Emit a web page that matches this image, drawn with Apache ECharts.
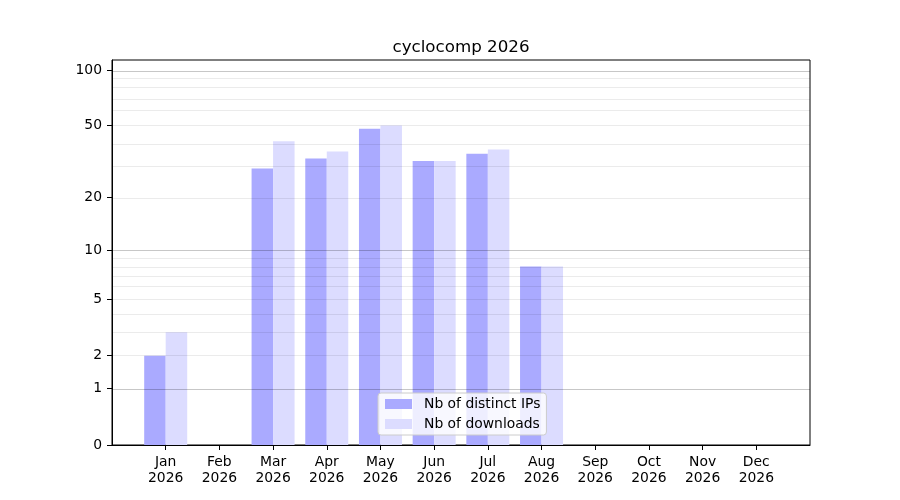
<!DOCTYPE html>
<html>
<head>
<meta charset="utf-8">
<script src="https://cdn.jsdelivr.net/npm/echarts@6/dist/echarts.min.js"></script>
<style>html,body{margin:0;padding:0;background:#fff}#c{width:900px;height:500px}</style>
</head>
<body>
<div id="c"></div>
<script>
const months = ['Jan','Feb','Mar','Apr','May','Jun','Jul','Aug','Sep','Oct','Nov','Dec'];
const year = '2026';
const distinctIPs = [2, 0, 29, 33, 48, 32, 35, 8, 0, 0, 0, 0];
const downloads   = [3, 0, 41, 36, 50, 32, 37, 8, 0, 0, 0, 0];
const yTickValues = [0, 1, 2, 5, 10, 20, 50, 100];
const majorGrid = [1, 10, 100];
const minorGrid = [2, 3, 4, 5, 6, 7, 8, 9, 20, 30, 40, 50, 60, 70, 80, 90];
const yMaxValue = 113.2;

const tf = v => Math.log10(1 + v);
const inv = t => Math.pow(10, t) - 1;
const font = 'DejaVu Sans';

const chart = echarts.init(document.getElementById('c'), null, {renderer: 'canvas'});
chart.setOption({
  animation: false,
  backgroundColor: '#fff',
  title: {
    text: 'cyclocomp ' + year,
    left: 456, top: 34, textAlign: 'center',
    textStyle: {fontFamily: font, fontSize: 16.7, fontWeight: 'normal', color: '#000'}
  },
  grid: {left: 112, right: 90, top: 60, bottom: 55, show: true, borderColor: '#000', borderWidth: 1, backgroundColor: 'transparent'},
  legend: {
    data: ['Nb of distinct IPs', 'Nb of downloads'],
    orient: 'vertical', left: 378, top: 393,
    itemWidth: 27, itemHeight: 10, itemGap: 6,
    padding: [4, 6, 4, 7],
    backgroundColor: 'rgba(255,255,255,0.8)', borderColor: '#cccccc', borderWidth: 1, borderRadius: 3,
    icon: 'rect',
    textStyle: {fontFamily: font, fontSize: 13.9, color: '#000', padding: [0, 0, 0, 7]}
  },
  xAxis: {
    type: 'value', min: -1, max: 12,
    axisLine: {show: true, onZero: false, lineStyle: {color: '#000'}},
    axisTick: {show: true, length: 5, customValues: months.map((m, i) => i), lineStyle: {color: '#000'}},
    axisLabel: {
      customValues: months.map((m, i) => i), margin: 9,
      fontFamily: font, fontSize: 13.9, color: '#000', lineHeight: 16,
      formatter: v => months[Math.round(v)] + '\n' + year
    },
    splitLine: {show: false}
  },
  yAxis: {
    type: 'value', min: 0, max: tf(yMaxValue),
    axisLine: {show: true, onZero: false, lineStyle: {color: '#000'}},
    axisTick: {show: true, length: 5, customValues: yTickValues.map(tf), lineStyle: {color: '#000'}},
    axisLabel: {
      customValues: yTickValues.map(tf), margin: 10,
      fontFamily: font, fontSize: 13.9, color: '#000',
      formatter: v => String(Math.round(inv(v)))
    },
    splitLine: {show: false}
  },
  series: [
    {
      name: 'Nb of distinct IPs', type: 'bar', barWidth: 21.5, barGap: '0%',
      itemStyle: {color: '#aaaaff'},
      data: distinctIPs.map((v, i) => [i, tf(v)])
    },
    {
      name: 'Nb of downloads', type: 'bar', barWidth: 21.5, barGap: '0%',
      itemStyle: {color: '#dcdcff'},
      data: downloads.map((v, i) => [i, tf(v)])
    },
    {
      name: 'grid', type: 'line', data: [], z: 3, silent: true,
      markLine: {
        silent: true, symbol: 'none', label: {show: false}, animation: false,
        data: minorGrid.map(v => ({yAxis: tf(v), lineStyle: {color: 'rgba(0,0,0,0.08)', width: 1, type: 'solid'}}))
          .concat(majorGrid.map(v => ({yAxis: tf(v), lineStyle: {color: 'rgba(0,0,0,0.22)', width: 1, type: 'solid'}})))
      }
    }
  ]
});
</script>
</body>
</html>
